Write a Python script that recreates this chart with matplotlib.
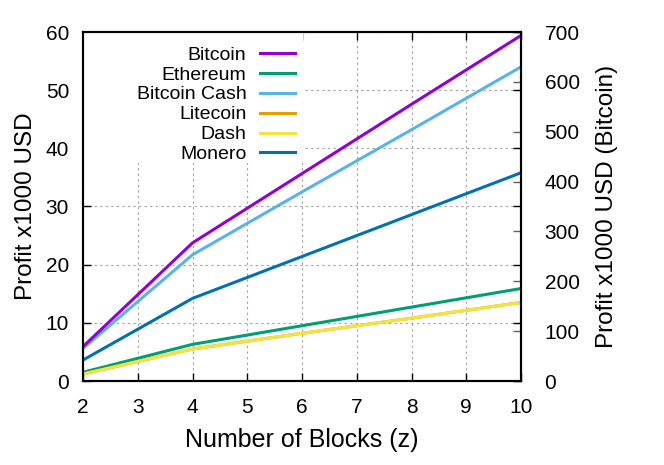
import matplotlib
matplotlib.use("Agg")
import matplotlib.pyplot as plt
from matplotlib.patches import Rectangle

plt.rcParams['font.family'] = ['Liberation Sans', 'DejaVu Sans']

# Data
blocks = [2, 4, 6, 8, 10]
bitcoin = [69, 277, 416, 555, 693]          # right axis (x1000 USD)
ethereum = [1.5, 6.3, 9.5, 12.7, 15.9]
bitcoin_cash = [5.6, 21.7, 32.5, 43.2, 54.0]
litecoin = [1.2, 5.5, 8.2, 10.8, 13.5]
dash = [1.2, 5.5, 8.2, 10.8, 13.5]
monero = [3.6, 14.2, 21.4, 28.6, 35.8]

fig = plt.figure(figsize=(6.64, 4.65), dpi=100)
ax = fig.add_axes([83 / 664, 1 - 381 / 465, 438 / 664, 349 / 465])
ax2 = ax.twinx()

lw = 2.2
ax.plot(blocks, ethereum, color="#009e73", lw=lw, label="Ethereum")
ax.plot(blocks, bitcoin_cash, color="#56b4e9", lw=lw, label="Bitcoin Cash")
ax.plot(blocks, litecoin, color="#e69f00", lw=lw, label="Litecoin")
ax.plot(blocks, dash, color="#f0e442", lw=lw, label="Dash")
ax.plot(blocks, monero, color="#0072b2", lw=lw, label="Monero")
ax2.plot(blocks, bitcoin, color="#9400d3", lw=lw, label="Bitcoin")

ax.set_xlim(2, 10)
ax.set_ylim(0, 60)
ax2.set_ylim(0, 700)
ax.set_xticks(range(2, 11))
ax.set_yticks(range(0, 61, 10))
ax2.set_yticks(range(0, 701, 100))

ax.set_axisbelow(True)
ax.grid(True, color="#a0a0a0", linestyle=(0, (2, 3)), lw=0.8)
# white key box hides the grid behind the legend, like gnuplot
ax.add_patch(Rectangle((0, 0.625), 0.502, 0.375, transform=ax.transAxes,
                       facecolor="white", edgecolor="none", zorder=1))

ax.tick_params(axis="x", direction="in", length=6, width=1, labelsize=15,
               top=True, pad=12)
ax.tick_params(axis="y", direction="in", length=6, width=1, labelsize=15,
               right=True, pad=10)
ax2.tick_params(direction="in", length=6, width=1, labelsize=15,
                color="#606060", pad=17)
for a in (ax, ax2):
    for s in a.spines.values():
        s.set_linewidth(1.5)

ax.set_xlabel("Number of Blocks (z)", fontsize=18, labelpad=8)
ax.set_ylabel("Profit x1000 USD", fontsize=17.5, labelpad=6)
ax2.set_ylabel("Profit x1000 USD (Bitcoin)", fontsize=17.5, labelpad=12)

h1, l1 = ax2.get_legend_handles_labels()
h2, l2 = ax.get_legend_handles_labels()
leg = ax2.legend(h1 + h2, l1 + l2, loc="upper right", bbox_to_anchor=(0.484, 0.96),
                 frameon=False, markerfirst=False, fontsize=14, handlelength=1.8,
                 labelspacing=0.12, borderaxespad=0, borderpad=0, handletextpad=0.7)
# right-align the labels against the line samples
for col in leg._legend_box._children[-1]._children:
    col.align = "right"

fig.savefig("out.png", dpi=100)
